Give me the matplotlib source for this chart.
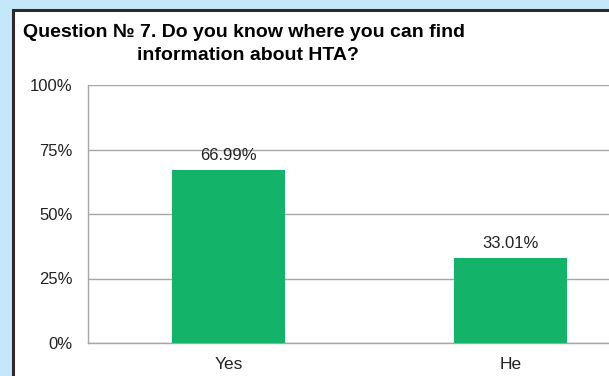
import matplotlib
matplotlib.use('Agg')
import matplotlib.pyplot as plt
from matplotlib.patches import Rectangle
from matplotlib.ticker import FuncFormatter

categories = ['Yes', 'He']
shares = [66.99, 33.01]
yticks = [0, 25, 50, 75, 100]

title_line1 = 'Question № 7. Do you know where you can find'
title_line2 = 'information about HTA?'

plt.rcParams['font.family'] = ['Liberation Sans', 'DejaVu Sans']

W, H = 609, 376
fig = plt.figure(figsize=(W / 100, H / 100), dpi=100)
fig.patch.set_facecolor('#c5e8f8')

# white slide panel with dark frame, running off the right and bottom edges
panel = Rectangle((13 / W, -0.1), 1.0, 1.1 - 10 / H, transform=fig.transFigure,
                  facecolor='white', edgecolor='#2b2b2b', linewidth=2.2, zorder=-1)
fig.add_artist(panel)

ax = fig.add_axes([88 / W, 33 / H, 563 / W, 258 / H])
ax.set_facecolor('white')
ax.set_xlim(-0.5, 1.5)
ax.set_ylim(0, 100)

x = range(len(categories))
bars = ax.bar(x, shares, width=0.4, color='#14b36a', zorder=3)
for xi, v in zip(x, shares):
    ax.annotate(f'{v:.2f}%', (xi, v), xytext=(0, 7), textcoords='offset points',
                ha='center', va='baseline', fontsize=12, color='#222222')

ax.set_yticks(yticks)
ax.yaxis.set_major_formatter(FuncFormatter(lambda v, p: f'{v:.0f}%'))
ax.set_xticks(list(x))
ax.set_xticklabels(categories)
ax.tick_params(axis='both', length=0, colors='#222222')
ax.tick_params(axis='y', pad=11, labelsize=12)
ax.tick_params(axis='x', pad=10, labelsize=12.5)
ax.grid(axis='y', color='#a6a6a6', linewidth=1.0, zorder=0)
for side in ['top', 'right']:
    ax.spines[side].set_visible(False)
for side in ['left', 'bottom']:
    ax.spines[side].set_color('#a6a6a6')
    ax.spines[side].set_linewidth(1.0)

fig.text(23 / W, 1 - 37 / H, title_line1, fontsize=14, fontweight='bold', va='baseline')
fig.text(137 / W, 1 - 60 / H, title_line2, fontsize=14, fontweight='bold', va='baseline')

fig.savefig('out.png', dpi=100)
